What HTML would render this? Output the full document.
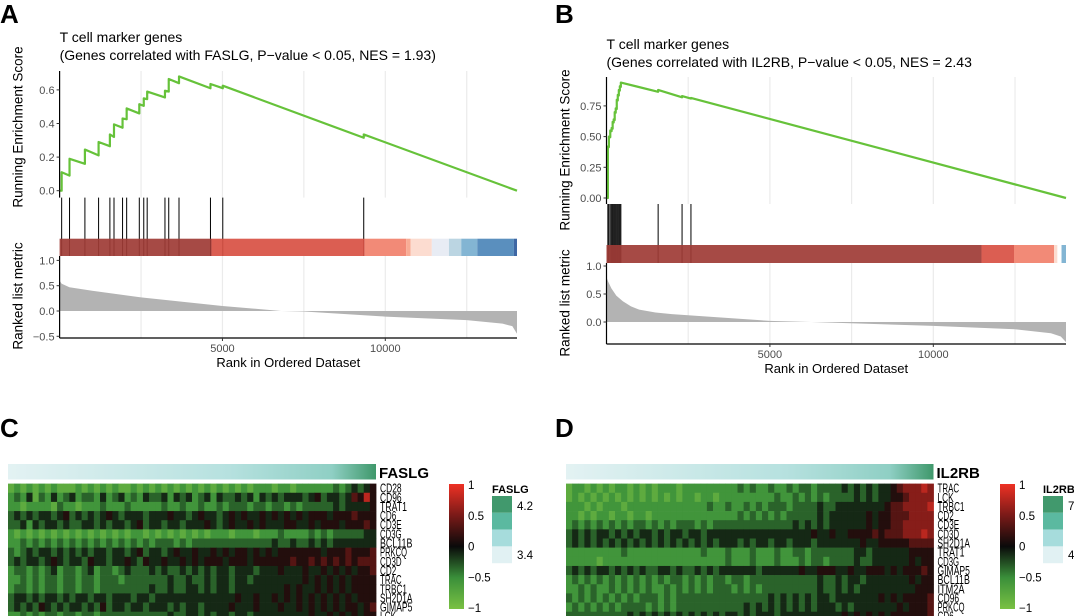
<!DOCTYPE html>
<html><head><meta charset="utf-8"><style>
body{margin:0;background:#fff;}
svg{display:block;font-family:"Liberation Sans",Arial,sans-serif;}
</style></head><body>
<svg id="fig" width="1074" height="616" viewBox="0 0 1074 616">
<defs>
<linearGradient id="annoGrad" x1="0" x2="1" y1="0" y2="0">
<stop offset="0" stop-color="#e3f2f3"/><stop offset="0.6" stop-color="#b6e1df"/><stop offset="0.88" stop-color="#8fcfc4"/><stop offset="1" stop-color="#3f986b"/></linearGradient>
<linearGradient id="heatGrad" x1="0" x2="0" y1="0" y2="1">
<stop offset="0" stop-color="#ee3124"/><stop offset="0.25" stop-color="#7a1a18"/><stop offset="0.5" stop-color="#0a0a0a"/><stop offset="0.75" stop-color="#3a8f3a"/><stop offset="1" stop-color="#7ac143"/></linearGradient>
</defs>
</svg>
<script>
// ---------- Panel A data ----------
const A_hits=[63,305,777,1197,1544,1670,1933,2059,2447,2584,2689,3235,3351,3666,4632,5010,9338];
const A_esBefore=[0.0,0.09,0.16,0.21,0.265,0.32,0.375,0.425,0.46,0.505,0.545,0.555,0.59,0.64,0.61,0.61,0.315];
const A_esAfter=[0.11,0.19,0.245,0.29,0.335,0.395,0.43,0.49,0.515,0.55,0.59,0.595,0.665,0.68,0.635,0.625,0.335];
const A_metricRank=[0,60,300,1000,2500,5000,6800,7500,10000,12500,13600,13900,14044];
const A_metricVal=[0.6,0.54,0.47,0.4,0.27,0.1,0,-0.01,-0.11,-0.18,-0.25,-0.3,-0.45];
const A_barEnd=[4664,9370,10641,10777,11429,11954,12332,12826,13950,14044];
const A_barColor=["#9e3b35","#d85043","#f1806b","#f7a58c","#fcd9cc","#e6eaf3","#b5d1e0","#78afcf","#4c86b8","#2e5a9c"];
const A_esTicks=[0,0.2,0.4,0.6];
const A_metricTicks=[-0.5,0,0.5,1.0];
// ---------- Panel B data ----------
const B_hits=[42,73,115,157,188,220,251,282,314,345,377,408,439,1580,2312,2584];
const B_esBefore=[0,0.415,0.495,0.545,0.565,0.615,0.635,0.695,0.725,0.795,0.835,0.875,0.905,0.865,0.82,0.81];
const B_esAfter=[0.42,0.5,0.55,0.57,0.62,0.64,0.7,0.73,0.8,0.84,0.88,0.91,0.94,0.88,0.83,0.815];
const B_metricRank=[0,50,150,300,500,750,1000,1500,2000,3000,5000,6260,10000,12500,13600,13900,14060];
const B_metricVal=[0.8,0.72,0.6,0.47,0.37,0.28,0.22,0.17,0.14,0.1,0.02,0,-0.07,-0.13,-0.2,-0.26,-0.36];
const B_barEnd=[11475,12469,13693,13797,13923,14060];
const B_barColor=["#9e3b35","#d85043","#f1806b","#fcd9cc","#ffffff","#78afcf"];
const B_esTicks=[0,0.25,0.5,0.75];
const B_metricTicks=[0,0.5,1.0];
const rankTicks=[5000,10000];
const rankGrid=[2500,5000,7500,10000,12500];
// ---------- Heatmap data (levels 0..9 => -1..1) ----------
const C_genes=["CD28","CD96","TRAT1","CD6","CD3E","CD3G","BCL11B","PRKCQ","CD3D","CD2","TRAC","TRBC1","SH2D1A","GIMAP5","LCK"];
const C_rows=[
"121212121112121212112121212121212121212122212212222223234345",
"232413242342332423423243342434234243343424343444345344346585",
"221222213221222322232222232232232232333233233232333334344445",
"343434434534343454344434445443454434545445454545455545556555",
"334243443433443434434534434434445434544545444554454555455565",
"212121212121212121212212121212121222122212223222232323333344",
"223232323232323232323232333232333333333333343343343434444444",
"323434434343434434434534434544544545455454545555555455565556",
"343443454344354434454354454454545554555455555565565656565666",
"233232342332342332343334343343434344344434445444544545454556",
"223232332332332333233333334334334344344344444444545454545555",
"233232332332332333333334334334434344344444444545445454545555",
"344343443434434434443443444444444444454454454545454545454555",
"343435434344343534434434443434434444544454445445454545455456",
"223232332332332333333333334334434344344344444444454454545455"];
const D_genes=["TRAC","LCK","TRBC1","CD2","CD3E","CD3D","SH2D1A","TRAT1","CD3G","GIMAP5","BCL11B","ITM2A","CD96","PRKCQ","CD6"];
const D_rows=[
"122121212212121222122222222232322322323323333434343445677787",
"121212121212121212122122122222222232232323233334343445567777",
"222121222122222222222223223223232333233334334444444456677778",
"221212212212212222222222222232323232333334344444454556667777",
"232323232323323232333232333333333333343434344444454556677777",
"343434434343443434434434444444444444444454454455556566677787",
"343434343434343434343434344434344344344434444444544555556666",
"222222222322222222222232223222322232233233333334434444445555",
"222221222222222222222222223222322232223233233334334444445455",
"343434434343433443433434344444434444445445554454455545455565",
"232323232323232323323232332332333333333334334344344444445455",
"223232232323232232323232333232323333333334334343444444444555",
"323232323232333232333333333333333434343434434444444545455556",
"232323232333323232333333333334343434343434443434444444545556",
"333333333343434343434343434434344434444444444545454545555556"];
const heatTicks=[1,0.5,0,-0.5,-1];
const legendColors=["#41996d","#5bb9a0","#a6dcdc","#e1f1f3"];

const svg=document.getElementById('fig');
const NS='http://www.w3.org/2000/svg';
function el(tag,attrs,parent){const e=document.createElementNS(NS,tag);for(const k in attrs)e.setAttribute(k,attrs[k]);(parent||svg).appendChild(e);return e;}
function txt(s,attrs,parent){const e=el('text',attrs,parent);e.textContent=s;return e;}

function gsea(P){
  const g=el('g',{});
  
  
  const xr=r=>P.x0+(r/P.maxRank)*(P.x1-P.x0);
  const ye=v=>P.es0-v*P.esScale;
  const ym=v=>P.m0-v*P.mScale;
  rankGrid.forEach(r=>{
    const l1=el('line',{x1:xr(r),x2:xr(r),y1:P.topY,y2:P.tickTop,stroke:'#ebebeb','stroke-width':1.2},g);
    
    const l2=el('line',{x1:xr(r),x2:xr(r),y1:P.barBot,y2:P.axisY,stroke:'#ebebeb','stroke-width':1.2},g);
    
  });
  let pts=[xr(0)+','+ym(0)];
  P.mR.forEach((r,i)=>pts.push(xr(r)+','+ym(P.mV[i])));
  pts.push(xr(P.maxRank)+','+ym(0));
  const area=el('polygon',{points:pts.join(' '),fill:'#b3b3b3'},g);
  
  P.hits.forEach(h=>{
    const l=el('line',{x1:xr(h),x2:xr(h),y1:P.tickTop,y2:P.barBot,stroke:'#000','stroke-width':1},g);
    
  });
  let prev=0;
  P.barEnd.forEach((e,i)=>{
    const r=el('rect',{x:xr(prev),y:P.barTop,width:xr(e)-xr(prev),height:P.barBot-P.barTop,fill:P.barColor[i],opacity:0.92},g);
    
    prev=e;
  });
  let d='M'+xr(0)+','+ye(0);
  P.hits.forEach((h,i)=>{d+=' L'+xr(h)+','+ye(P.esB[i])+' L'+xr(h)+','+ye(P.esA[i]);});
  d+=' L'+xr(P.maxRank)+','+ye(0);
  const es=el('path',{d:d,fill:'none',stroke:'#66c23a','stroke-width':2.2,'stroke-linejoin':'round'},g);
  
  const a1=el('line',{x1:P.x0,x2:P.x0,y1:P.topY,y2:P.tickTop,stroke:'#000','stroke-width':1.2},g);
  
  const a2=el('line',{x1:P.x0,x2:P.x0,y1:P.barBot,y2:P.axisY,stroke:'#000','stroke-width':1.2},g);
  
  const a3=el('line',{x1:P.x0,x2:P.x1,y1:P.axisY,y2:P.axisY,stroke:'#000','stroke-width':1.2},g);
  
  P.esTicks.forEach(v=>{
    el('line',{x1:P.x0-3,x2:P.x0,y1:ye(v),y2:ye(v),stroke:'#333'},g);
    const t=txt(P.esFmt(v),{x:P.x0-5,y:ye(v)+4,'font-size':11,fill:'#4d4d4d','text-anchor':'end'},g);
    
  });
  P.mTicks.forEach(v=>{
    el('line',{x1:P.x0-3,x2:P.x0,y1:ym(v),y2:ym(v),stroke:'#333'},g);
    const t=txt(v<0?'\u2212'+Math.abs(v).toFixed(1):v.toFixed(1),{x:P.x0-5,y:ym(v)+4,'font-size':11,fill:'#4d4d4d','text-anchor':'end'},g);
    
  });
  rankTicks.forEach(r=>{
    el('line',{x1:xr(r),x2:xr(r),y1:P.axisY,y2:P.axisY+3,stroke:'#333'},g);
    const t=txt(String(r),{x:xr(r),y:P.axisY+14,'font-size':11,fill:'#4d4d4d','text-anchor':'middle'},g);
    
  });
  const xl=txt('Rank in Ordered Dataset',{x:(P.x0+P.x1)/2,y:P.axisY+29,'font-size':13,fill:'#000','text-anchor':'middle'},g);
  
  const y1=txt('Running Enrichment Score',{x:0,y:0,'font-size':13.5,'text-anchor':'middle',transform:'translate('+(P.x0-37)+','+P.esTitleY+') rotate(-90)'},g);
  
  const y2=txt('Ranked list metric',{x:0,y:0,'font-size':13.5,'text-anchor':'middle',transform:'translate('+(P.x0-37)+','+P.mTitleY+') rotate(-90)'},g);
  
  const t1=txt('T cell marker genes',{x:P.x0,y:P.titleY,'font-size':14},g);
  
  const t2=txt(P.sub,{x:P.x0,y:P.titleY+18,'font-size':14},g);
  
}
gsea({name:'a',x0:59.6,x1:517,maxRank:14044,es0:190.7,esScale:168,m0:311,mScale:50.6,topY:71,tickTop:197.6,barTop:238.7,barBot:256,axisY:338,
  hits:A_hits,esB:A_esBefore,esA:A_esAfter,mR:A_metricRank,mV:A_metricVal,barEnd:A_barEnd,barColor:A_barColor,esTicks:A_esTicks,esFmt:v=>v.toFixed(1),mTicks:A_metricTicks,
  titleY:42,esTitleY:127,mTitleY:296,sub:'(Genes correlated with FASLG, P\u2212value < 0.05, NES = 1.93)'});
gsea({name:'b',x0:606.5,x1:1066,maxRank:14060,es0:198,esScale:122.8,m0:322,mScale:56,topY:77,tickTop:204,barTop:245,barBot:263,axisY:344,
  hits:B_hits,esB:B_esBefore,esA:B_esAfter,mR:B_metricRank,mV:B_metricVal,barEnd:B_barEnd,barColor:B_barColor,esTicks:B_esTicks,esFmt:v=>v.toFixed(2),mTicks:B_metricTicks,
  titleY:49,esTitleY:150,mTitleY:303,sub:'(Genes correlated with IL2RB, P\u2212value < 0.05, NES = 2.43'});

const stops=[[-1,[122,193,67]],[-0.5,[58,143,58]],[0,[10,10,10]],[0.5,[122,26,24]],[1,[238,49,36]]];
function hcol(v){for(let i=0;i<stops.length-1;i++){const[a,ca]=stops[i],[b,cb]=stops[i+1];if(v<=b){const t=(v-a)/(b-a);return 'rgb('+ca.map((c,k)=>Math.round(c+(cb[k]-c)*t)).join(',')+')';}}return 'rgb(238,49,36)';}
function heat(H){
  const g=el('g',{});
  
  
  const an=el('rect',{x:H.x0,y:464,width:H.x1-H.x0,height:15.5,fill:'url(#annoGrad)'},g);
  
  const al=txt(H.gene,{x:H.x1+3,y:478,'font-size':15,'font-weight':'bold'},g);
  
  const rh=9.15, y0=483.6;
  H.rows.forEach((row,ri)=>{
    const n=row.length, cw=(H.x1-H.x0)/n;
    for(let c=0;c<n;c++){
      const v=parseInt(row[c])/4.5-1;
      const r=el('rect',{x:H.x0+c*cw,y:y0+ri*rh,width:cw+0.4,height:rh+0.3,fill:hcol(Math.min(1,v))},g);
      
    }
    const t=txt(H.genes[ri],{x:H.x1+4,y:y0+ri*rh+9,'font-size':12.5,textLength:H.genes[ri].length*5.4,lengthAdjust:'spacingAndGlyphs'},g);
    
  });
  const cb=el('rect',{x:H.cbx,y:484,width:15,height:125,fill:'url(#heatGrad)'},g);
  
  heatTicks.forEach(v=>{
    const yy=546.5-v*61.5;
    const t=txt(v<0?'\u2212'+Math.abs(v):String(v),{x:H.cbx+19,y:yy+4,'font-size':11.5},g);
    
  });
  const lt=txt(H.gene,{x:H.lx,y:493,'font-size':11,'font-weight':'bold'},g);
  
  legendColors.forEach((c,i)=>{
    const r=el('rect',{x:H.lx,y:496+i*16.8,width:20,height:16.8,fill:c},g);
    
  });
  const l1=txt(H.hi,{x:H.lx+25,y:510,'font-size':11.5},g);
  
  const l2=txt(H.lo,{x:H.lx+25,y:559,'font-size':11.5},g);
  
}
heat({name:'c',x0:8,x1:376,gene:'FASLG',rows:C_rows,genes:C_genes,cbx:449,lx:492,hi:'4.2',lo:'3.4'});
heat({name:'d',x0:566,x1:933.5,gene:'IL2RB',rows:D_rows,genes:D_genes,cbx:1000,lx:1043,hi:'7',lo:'4'});

[['A',0,23],['B',555,23],['C',0,437],['D',555,437]].forEach(p=>{
  const t=txt(p[0],{x:p[1],y:p[2],'font-size':26,'font-weight':'bold'});
  
  
});
</script>
</body></html>
